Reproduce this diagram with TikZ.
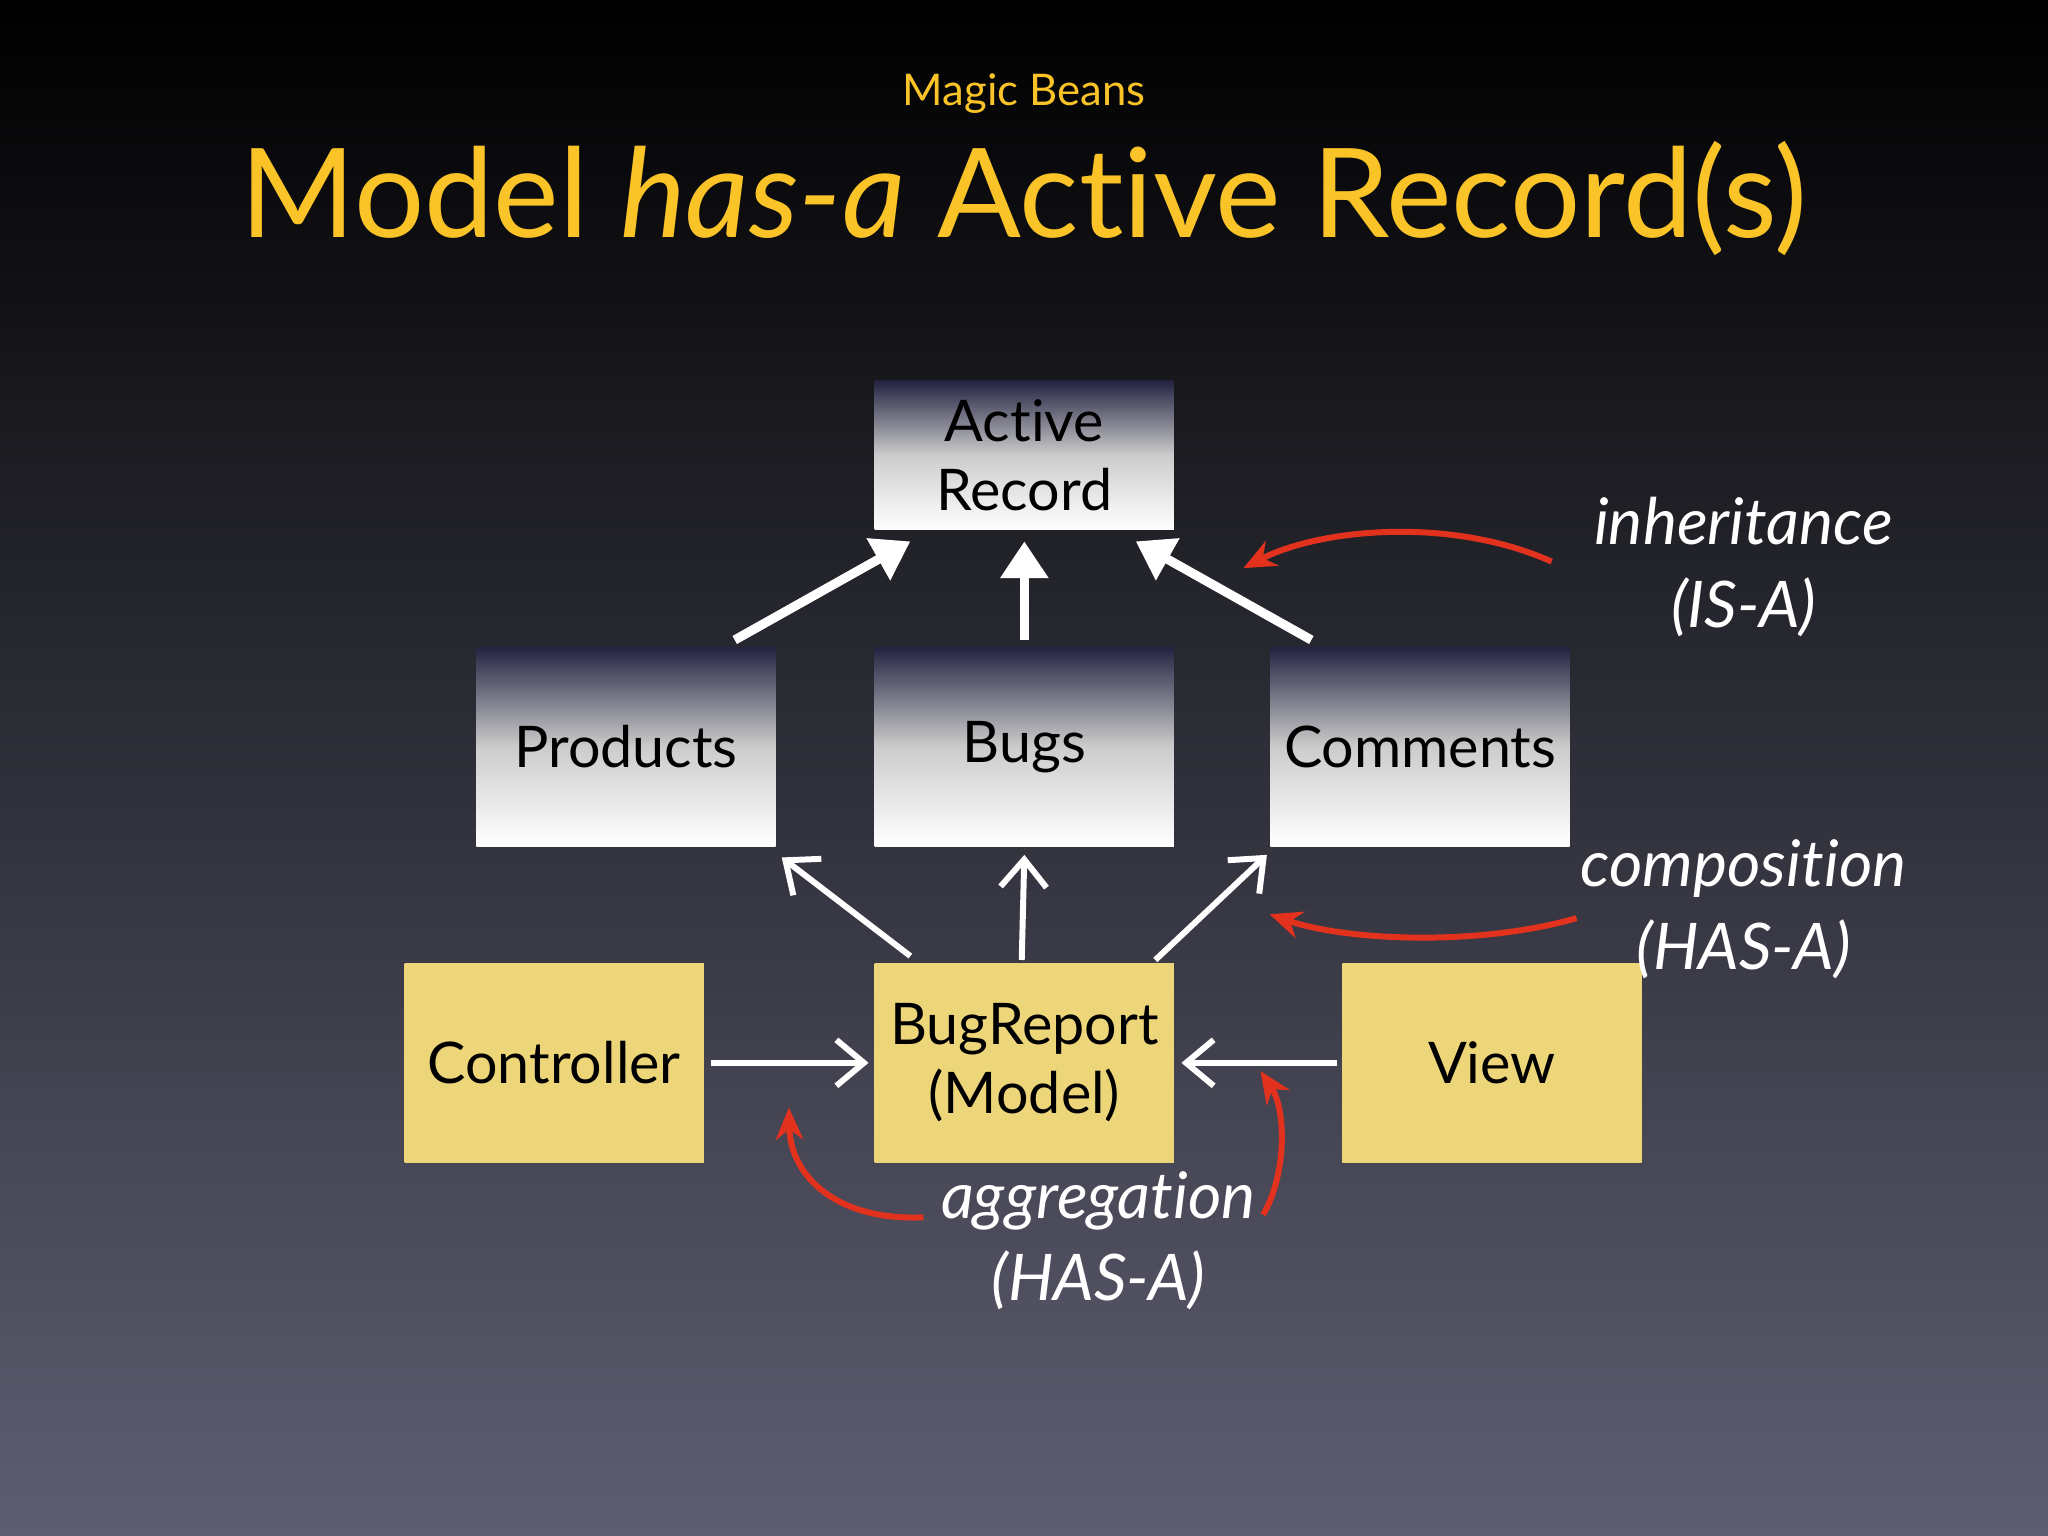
\documentclass[tikz,border=0pt]{standalone}
\usepackage{fontspec}
\setmainfont{Lato}[Ligatures={NoCommon}]
\usetikzlibrary{arrows.meta}
\definecolor{slatebot}{RGB}{94,94,114}
\definecolor{slatemid}{RGB}{30,32,58}
\definecolor{beanyellow}{RGB}{237,214,122}
\definecolor{titleyellow}{RGB}{250,196,40}
\definecolor{curvered}{RGB}{226,50,30}
\tikzset{
  greybox/.style={minimum width=2.29cm,minimum height=1.52cm,inner sep=0pt,
    top color=gray!70!blue!40!black,bottom color=white,middle color=gray!40,
    font=\fontsize{12.5}{15}\selectfont,align=center,anchor=north west},
  yellowbox/.style={greybox,fill=beanyellow,top color=beanyellow,bottom color=beanyellow,middle color=beanyellow},
  isa/.style={white,line width=2pt,-{Triangle[length=8pt,width=10pt]}},
  hasa/.style={white,line width=1.3pt,-{Straight Barb[length=6pt,width=10pt]}},
  note/.style={white,font=\itshape\fontsize{14}{18}\selectfont,align=center},
  redcurve/.style={curvered,line width=1.3pt,-{Stealth[length=7pt,width=6pt]}}
}
\begin{document}
\begin{tikzpicture}[x=0.01cm,y=-0.01cm]
\shade[top color=black,middle color=slatemid,bottom color=slatebot] (0,0) rectangle (1568,1176);
\useasboundingbox (0,0) rectangle (1568,1176);

\node[titleyellow,font=\fontsize{9.5}{12}\selectfont] (beans) at (784,72) {Magic Beans};
\node[titleyellow,font=\fontsize{27}{32}\selectfont] (title) at (784,152) {Model \textit{has-a} Active Record(s)};

\node[greybox,minimum height=1.14cm] (ar) at (669,291) {Active\\Record};
\node[greybox] (products) at (364,495) {Products};
\node[greybox] (bugs) at (669,495) {Bugs};
\node[greybox] (comments) at (972,495) {Comments};
\node[yellowbox] (controller) at (309,737) {Controller};
\node[yellowbox] (bugreport) at (669,737) {BugReport\\(Model)};
\node[yellowbox] (view) at (1027,737) {View};

\draw[isa] ([shift={(-32,-5)}]products.north east) -- ([shift={(28,8)}]ar.south west);
\draw[isa] ([shift={(0,-5)}]bugs.north) -- ([shift={(0,8)}]ar.south);
\draw[isa] ([shift={(32,-5)}]comments.north west) -- ([shift={(-30,8)}]ar.south east);

\draw[hasa] ([shift={(28,-5)}]bugreport.north west) -- ([shift={(4,8)}]products.south east);
\draw[hasa] ([shift={(-2,-2)}]bugreport.north) -- ([shift={(0,6)}]bugs.south);
\draw[hasa] ([shift={(-15,-2)}]bugreport.north east) -- ([shift={(-2,6)}]comments.south west);
\draw[hasa] ([shift={(5,0)}]controller.east) -- ([shift={(-4,0)}]bugreport.west);
\draw[hasa] ([shift={(-3,0)}]view.west) -- ([shift={(5,0)}]bugreport.east);

\node[note] (inh) at (1335,434) {inheritance\\(IS-A)};
\node[note] (comp) at (1335,696) {composition\\(HAS-A)};
\node[note] (aggr) at (841,950) {aggregation\\(HAS-A)};

\draw[redcurve] (1188,430) .. controls (1110,395) and (1010,405) .. (952,435);
\draw[redcurve] (1207,703) .. controls (1130,725) and (1030,720) .. (972,700);
\draw[redcurve] (707,932) .. controls (640,935) and (605,900) .. (604,848);
\draw[redcurve] (967,930) .. controls (985,900) and (985,850) .. (965,820);
\end{tikzpicture}
\end{document}
